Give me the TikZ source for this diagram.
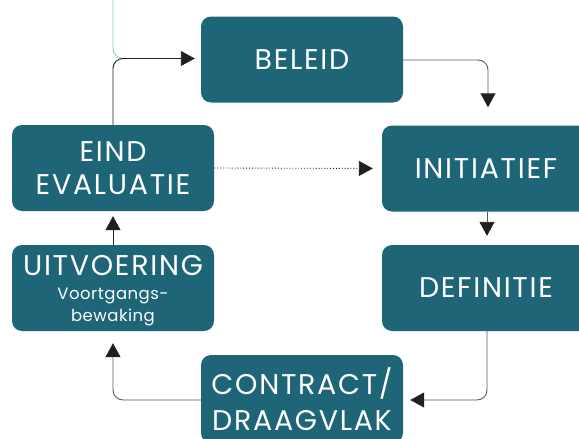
\documentclass[tikz,border=0pt]{standalone}
\usepackage{fontspec}
\setmainfont{Poppins}[LetterSpace=6]
\newfontfamily\subfont{Poppins}[LetterSpace=3]
\usetikzlibrary{arrows.meta,calc}
\definecolor{boxteal}{HTML}{1E6577}
\definecolor{lineblk}{HTML}{231F20}
\definecolor{linegray}{HTML}{5A5A5A}
\definecolor{lightteal}{HTML}{8CC4CC}
\begin{document}
\begin{tikzpicture}[x=1pt,y=-1pt,
  stepbox/.style={fill=boxteal,rounded corners=10pt,text=white,align=center,
    minimum height=86pt,inner sep=0pt,font=\fontsize{28.5}{33}\selectfont},
  leftbox/.style={stepbox,minimum width=202pt},
  rightbox/.style={stepbox,minimum width=208pt},
  conn/.style={draw=lineblk,line width=0.9pt,rounded corners=10pt,
    -{Triangle[length=14pt,width=15pt,color=lineblk]}}]
\useasboundingbox (0,0) rectangle (579,439);
\node[leftbox] (beleid) at (302,59.5) {BELEID};
\node[rightbox] (init) at (486,168.5) {INITIATIEF};
\node[rightbox] (def) at (486,288) {DEFINITIE};
\node[leftbox] (eind) at (113,168) {EIND\\EVALUATIE};
\node[leftbox] (uitv) at (113,288) {\rule{0pt}{26pt}UITVOERING\\[-9pt]{\subfont\fontsize{16.5}{23}\selectfont Voortgangs-}\\[-11pt]{\subfont\fontsize{16.5}{22}\selectfont bewaking}};
\node[leftbox,minimum height=88pt,font=\fontsize{28.5}{36}\selectfont] (contract) at (302,399) {CONTRACT/\\DRAAGVLAK};
\coordinate (top) at (113,0);
\draw[lightteal,line width=0.9pt,rounded corners=10pt] (top) -- (113,58.5) -- (130,58.5);
\draw[conn,shorten >=6pt] (eind.north) |- ($(beleid.west)+(0,-1)$);
\draw[conn,draw=linegray,shorten >=18pt] ($(beleid.east)+(0,0.5)$) -| ($(init.north)+(2,0)$);
\draw[conn,draw=linegray,shorten >=9pt] ($(init.south)+(1,0)$) -- ($(def.north)+(1,0)$);
\draw[conn,draw=linegray,shorten >=7pt] ($(def.south)+(1,0)$) |- ($(contract.east)+(0,1)$);
\draw[conn,draw=linegray,shorten >=12pt] ($(contract.west)+(0,1)$) -| (uitv.south);
\draw[conn,shorten >=5pt] (uitv.north) -- (eind.south);
\draw[conn,dotted,rounded corners=0pt,shorten >=9pt] (eind.east) -- (init.west);
\end{tikzpicture}
\end{document}
